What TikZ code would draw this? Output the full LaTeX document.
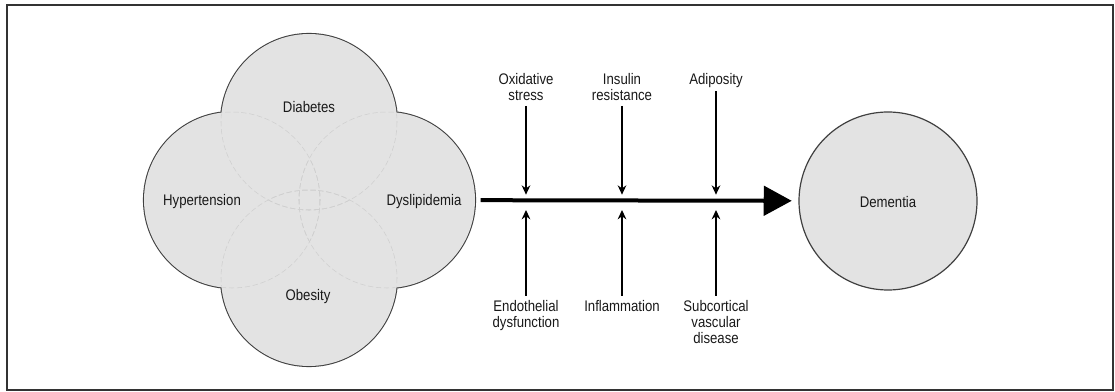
\documentclass[tikz,border=0pt]{standalone}
\usepackage{fontspec}
\setmainfont{Liberation Sans}[FakeStretch=0.86]
\usepackage{tikz}
\usetikzlibrary{arrows.meta, positioning}

\begin{document}
\begin{tikzpicture}[
    x=0.75pt, y=-0.75pt,
    risk/.style={circle, fill=gray!22, minimum size=132pt, inner sep=0pt},
    rim/.style={line width=1.6pt, draw=black!75},
    seam/.style={draw=gray!38, line width=0.4pt, dash pattern=on 4pt off 2pt},
    factor/.style={align=center, font=\fontsize{11.5}{12}\selectfont, text=black!90, inner sep=2pt},
    arrow/.style={-{Stealth[length=7pt, width=6.5pt]}, line width=1pt},
    mainarrow/.style={-{Triangle[length=21pt, width=22pt]}, line width=3pt}
]
\useasboundingbox (0,0) rectangle (1115,392);
\draw[black!80, line width=0.8pt] (7,5) rectangle (1113,390);

% risk factor cluster
\coordinate (cdia) at (309,122);
\coordinate (chyp) at (232,200);
\coordinate (cdys) at (387,200);
\coordinate (cobe) at (309,278);
\foreach \c in {cdia,chyp,cdys,cobe}
    \draw[rim] (\c) circle (88);
\node[risk] (dia) at (cdia) {};
\node[risk] (hyp) at (chyp) {};
\node[risk] (dys) at (cdys) {};
\node[risk] (obe) at (cobe) {};
\foreach \a in {dia,hyp,dys,obe} {
    \begin{scope}
        \clip (\a) circle (87);
        \foreach \b in {dia,hyp,dys,obe}
            \draw[seam] (\b) circle (88);
    \end{scope}
}
\node[factor] (tdia) at (309,107) {Diabetes};
\node[factor] (thyp) at (202,202) {Hypertension};
\node[factor] (tdys) at (424,202) {Dyslipidemia};
\node[factor] (tobe) at (308,297) {Obesity};

% outcome
\node[risk, draw=black!75, line width=0.9pt, minimum size=133.5pt] (dem) at (888,201) {};
\node[factor] (tdem) at (888,202) {Dementia};

\draw[mainarrow, shorten <=4pt, shorten >=5pt] (dys) -- (dem);

% mechanisms
\coordinate (m1) at (526,202);
\coordinate (m2) at (622,202);
\coordinate (m3) at (716,202);

\node[factor, anchor=north] (oxi) at (526,70) {Oxidative\\stress};
\node[factor, anchor=north] (ins) at (622,70) {Insulin\\resistance};
\node[factor, anchor=north] (adi) at (716,70) {Adiposity};
\node[factor, anchor=north] (endo) at (526,297) {Endothelial\\dysfunction};
\node[factor, anchor=north] (infl) at (622,297) {Inflammation};
\node[factor, anchor=north] (subc) at (716,297) {Subcortical\\vascular\\disease};

\draw[arrow, shorten <=2pt, shorten >=5.5pt] (oxi) -- (m1);
\draw[arrow, shorten <=2pt, shorten >=5.5pt] (ins) -- (m2);
\draw[arrow, shorten <=1pt, shorten >=5.5pt] (adi) -- (m3);
\draw[arrow, shorten <=1pt, shorten >=6pt] (endo) -- (m1);
\draw[arrow, shorten <=1pt, shorten >=6pt] (infl) -- (m2);
\draw[arrow, shorten <=1pt, shorten >=6pt] (subc) -- (m3);
\end{tikzpicture}
\end{document}
